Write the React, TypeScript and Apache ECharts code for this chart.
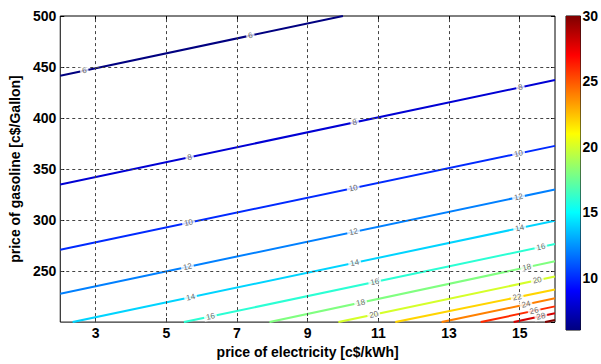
import React, { useEffect, useRef } from 'react';
import * as echarts from 'echarts';

// contour levels and their straight-line endpoints (data coords)
const levels = [6, 8, 10, 12, 14, 16, 18, 20, 22, 24, 26, 28, 30];
const startX = [2, 2, 2, 2, 2.35, 5.5, 7.92, 9.87, 11.48, 12.79, 13.9, 14.83, 15.72];
const startY = [441.5, 334.8, 271, 227.8, 200, 200, 200, 200, 200, 200, 200, 200, 200];
const endX = [10, 16, 16, 16, 16, 16, 16, 16, 16, 16, 16, 16, 16];
const endY = [500, 437.3, 372.7, 330, 299.4, 276.5, 259.6, 244.7, 231.9, 223.3, 215.4, 208.7, 202];
// x positions of the inline contour labels
const labelXs = [
  [2.68, 7.38],
  [5.66, 10.33, 15.02],
  [5.63, 10.29, 14.97],
  [5.6, 10.3, 14.97],
  [5.69, 10.33, 15.0],
  [6.25, 10.9, 15.6],
  [10.5, 15.2],
  [10.87, 15.5],
  [14.93],
  [15.18],
  [15.41],
  [15.6],
  [],
];
const xTicks = [3, 5, 7, 9, 11, 13, 15];
const yTicks = [250, 300, 350, 400, 450];
const cbarTicks = [10, 15, 20, 25, 30];
const xMin = 2, xMax = 16, yMin = 200, yMax = 500;
const cMin = 6, cMax = 30;

const GRID = { left: 53, top: 16, width: 502, height: 314 };
const CBAR = { left: 566, top: 16, width: 16, height: 314 };
const FONT = '"Liberation Sans", Arial, Helvetica, sans-serif';

function clamp(v: number) { return Math.max(0, Math.min(1, v)); }
function jet(t: number) {
  const r = clamp(Math.min(4 * t - 1.5, -4 * t + 4.5));
  const g = clamp(Math.min(4 * t - 0.5, -4 * t + 3.5));
  const b = clamp(Math.min(4 * t + 0.5, -4 * t + 2.5));
  return `rgb(${Math.round(r * 255)},${Math.round(g * 255)},${Math.round(b * 255)})`;
}
function levelColor(l: number) { return jet((l - cMin) / (cMax - cMin)); }

export default function App() {
  const ref = useRef<HTMLDivElement>(null);
  useEffect(() => {
    if (!ref.current) return;
    const chart = echarts.init(ref.current, null, { renderer: 'svg' });
    const pxX = GRID.width / (xMax - xMin);
    const pxY = GRID.height / (yMax - yMin);

    const gridSeries = {
      type: 'line',
      xAxisIndex: 0,
      yAxisIndex: 0,
      data: [[xMin, yMin]],
      showSymbol: false,
      silent: true,
      z: 2,
      lineStyle: { opacity: 0 },
      markLine: {
        silent: true,
        symbol: 'none',
        label: { show: false },
        lineStyle: { color: '#444', type: [3, 3], width: 1 },
        data: [
          ...xTicks.map((v) => ({ xAxis: v })),
          ...yTicks.map((v) => ({ yAxis: v })),
        ],
      },
    };

    const lineSeries: any[] = levels.map((l, i) => ({
      type: 'line',
      xAxisIndex: 0,
      yAxisIndex: 0,
      data: [[startX[i], startY[i]], [endX[i], endY[i]]],
      showSymbol: false,
      silent: true,
      z: 3,
      lineStyle: { color: levelColor(l), width: 2 },
      itemStyle: { color: levelColor(l) },
    }));

    const labelSeries: any[] = levels.map((l, i) => {
      const slope = (endY[i] - startY[i]) / (endX[i] - startX[i]);
      const angle = (Math.atan((slope * pxY) / pxX) * 180) / Math.PI;
      return {
        type: 'scatter',
        xAxisIndex: 0,
        yAxisIndex: 0,
        silent: true,
        z: 5,
        symbolSize: 1,
        itemStyle: { color: 'rgba(0,0,0,0)' },
        data: labelXs[i].map((x) => [x, startY[i] + slope * (x - startX[i])]),
        label: {
          show: true,
          position: 'inside',
          formatter: String(l),
          rotate: angle,
          fontSize: 8,
          fontFamily: FONT,
          color: '#444',
          backgroundColor: '#fff',
          padding: [0, 2],
        },
      };
    });

    const stops = [];
    for (let k = 0; k <= 64; k++) {
      stops.push({ offset: k / 64, color: jet(k / 64) });
    }

    const tickLabel = { fontFamily: FONT, fontWeight: 'bold', fontSize: 14, color: '#000' };

    chart.setOption({
      animation: false,
      backgroundColor: '#fff',
      grid: [
        { ...GRID, show: true, borderColor: '#000', borderWidth: 1, backgroundColor: 'transparent', containLabel: false },
        { ...CBAR, show: true, borderColor: '#000', borderWidth: 1, backgroundColor: 'transparent', containLabel: false },
      ],
      xAxis: [
        {
          type: 'value', gridIndex: 0, min: xMin, max: xMax, position: 'bottom',
          name: 'price of electricity [c$/kWh]', nameLocation: 'middle', nameGap: 14,
          nameTextStyle: { ...tickLabel },
          axisLine: { show: false },
          axisTick: { show: true, inside: true, length: 4, customValues: xTicks, lineStyle: { color: '#000' } },
          axisLabel: { ...tickLabel, margin: 4, customValues: xTicks },
          splitLine: { show: false },
        },
        {
          type: 'value', gridIndex: 0, min: xMin, max: xMax, position: 'top',
          axisLine: { show: false },
          axisTick: { show: true, inside: true, length: 4, customValues: xTicks, lineStyle: { color: '#000' } },
          axisLabel: { show: false, customValues: xTicks },
          splitLine: { show: false },
        },
        {
          type: 'value', gridIndex: 1, min: 0, max: 1, show: false,
        },
      ],
      yAxis: [
        {
          type: 'value', gridIndex: 0, min: yMin, max: yMax, interval: 50, position: 'left',
          name: 'price of gasoline [c$/Gallon]', nameLocation: 'middle', nameGap: 31,
          nameTextStyle: { ...tickLabel },
          axisLine: { show: false },
          axisTick: { show: true, inside: true, length: 4, lineStyle: { color: '#000' } },
          axisLabel: { ...tickLabel, margin: 4, showMinLabel: false },
          splitLine: { show: false },
        },
        {
          type: 'value', gridIndex: 0, min: yMin, max: yMax, interval: 50, position: 'right',
          axisLine: { show: false },
          axisTick: { show: true, inside: true, length: 4, lineStyle: { color: '#000' } },
          axisLabel: { show: false },
          splitLine: { show: false },
        },
        {
          type: 'value', gridIndex: 1, min: cMin, max: cMax, position: 'left',
          axisLine: { show: false },
          axisTick: { show: true, inside: true, length: 3, customValues: cbarTicks, lineStyle: { color: '#000' } },
          axisLabel: { show: false, customValues: cbarTicks },
          splitLine: { show: false },
        },
        {
          type: 'value', gridIndex: 1, min: cMin, max: cMax, position: 'right',
          axisLine: { show: false },
          axisTick: { show: true, inside: true, length: 3, customValues: cbarTicks, lineStyle: { color: '#000' } },
          axisLabel: { ...tickLabel, margin: 2, customValues: cbarTicks },
          splitLine: { show: false },
        },
      ],
      series: [
        {
          type: 'custom',
          xAxisIndex: 2,
          yAxisIndex: 2,
          silent: true,
          z: 1,
          data: [[0, cMin, cMax]],
          renderItem: (params: any, api: any) => {
            const p0 = api.coord([0, api.value(1)]);
            const p1 = api.coord([0, api.value(2)]);
            const cs = params.coordSys;
            return {
              type: 'rect',
              shape: { x: cs.x, y: p1[1], width: cs.width, height: p0[1] - p1[1] },
              style: { fill: new echarts.graphic.LinearGradient(0, 1, 0, 0, stops) },
            };
          },
        },
        gridSeries,
        ...lineSeries,
        ...labelSeries,
      ],
    });
    return () => chart.dispose();
  }, []);
  return (
    <div
      ref={ref}
      style={{ position: 'fixed', left: 0, top: 0, width: 601, height: 364 }}
    />
  );
}
